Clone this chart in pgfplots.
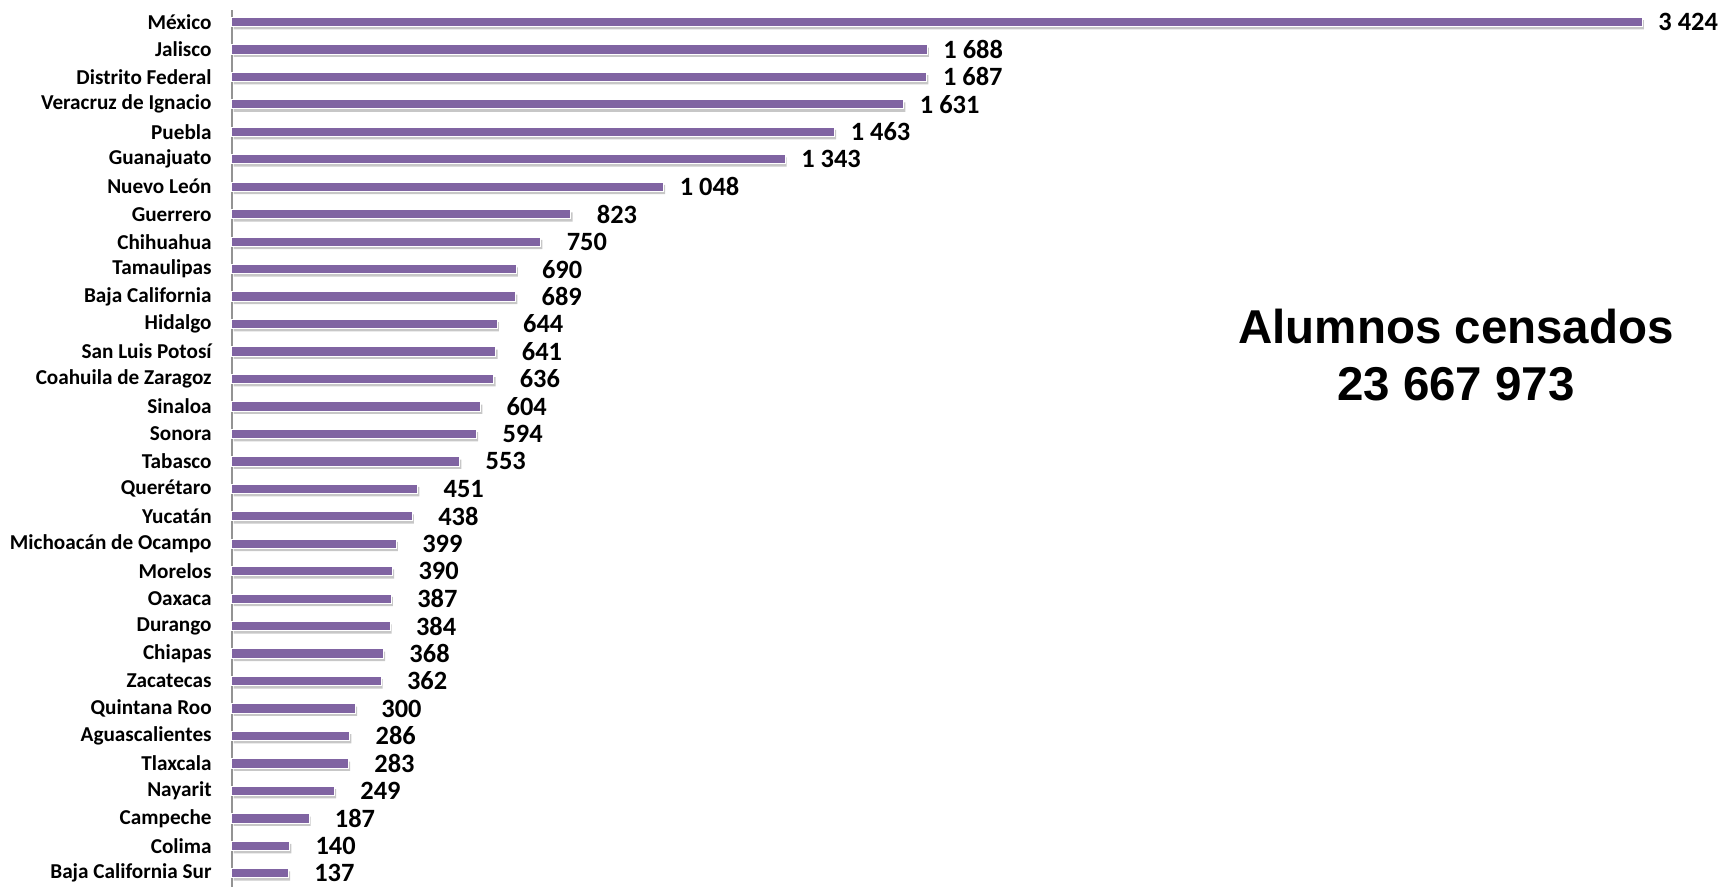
\documentclass[border=0pt]{standalone}
\usepackage{fontspec}
\usepackage{pgfplots}
\usepackage{pgfplotstable}
\pgfplotsset{compat=1.18}
\setmainfont{Carlito}
\newfontfamily\arialfont{Liberation Sans}
\definecolor{barpurple}{HTML}{8064A2}

% alumnos censados por entidad (miles)
\pgfplotstableread[col sep=comma]{
estado,alumnos
México,3424
Jalisco,1688
Distrito Federal,1687
Veracruz de Ignacio,1631
Puebla,1463
Guanajuato,1343
Nuevo León,1048
Guerrero,823
Chihuahua,750
Tamaulipas,690
Baja California,689
Hidalgo,644
San Luis Potosí,641
Coahuila de Zaragoz,636
Sinaloa,604
Sonora,594
Tabasco,553
Querétaro,451
Yucatán,438
Michoacán de Ocampo,399
Morelos,390
Oaxaca,387
Durango,384
Chiapas,368
Zacatecas,362
Quintana Roo,300
Aguascalientes,286
Tlaxcala,283
Nayarit,249
Campeche,187
Colima,140
Baja California Sur,137
}\datos

\begin{document}
\begin{tikzpicture}
\begin{axis}[
    scale only axis,
    width=744pt, height=438.5pt,
    xmin=0, xmax=3613,
    ymin=-0.435, ymax=31.5,
    y dir=reverse,
    axis x line=none,
    axis y line*=left,
    y axis line style={draw=gray!85, line width=0.9pt},
    ytick={0,...,31},
    yticklabels from table={\datos}{estado},
    major tick length=0pt,
    yticklabel style={font=\fontsize{10.6}{12}\selectfont\bfseries, inner sep=0pt, xshift=-10pt},
    clip=false,
    xbar, bar width=4.65pt,
    /pgf/number format/1000 sep={\ },
    /pgf/number format/assume math mode=true,
]
% sombra
\addplot[xbar, bar shift=0pt, fill=black!22, draw=none, xshift=0.8pt, yshift=-1.4pt, forget plot]
    table[x=alumnos, y expr=\coordindex]{\datos};
\addplot[xbar, bar shift=0pt, fill=barpurple, draw=white, line width=0.5pt,
    nodes near coords,
    every node near coord/.append style={font=\fontsize{13.2}{14}\selectfont\bfseries, anchor=center, xshift=23pt, inner sep=0pt, text=black}]
    table[x=alumnos, y expr=\coordindex]{\datos};
\node[font=\arialfont\bfseries\fontsize{23.75}{28.5}\selectfont, align=center] at (axis cs:2972,12.13) {Alumnos censados\\23 667 973};
\end{axis}
\pgfresetboundingbox
\path[use as bounding box] ([xshift=-116pt]current axis.south west) rectangle ([yshift=5pt]current axis.north east);
\end{tikzpicture}
\end{document}
